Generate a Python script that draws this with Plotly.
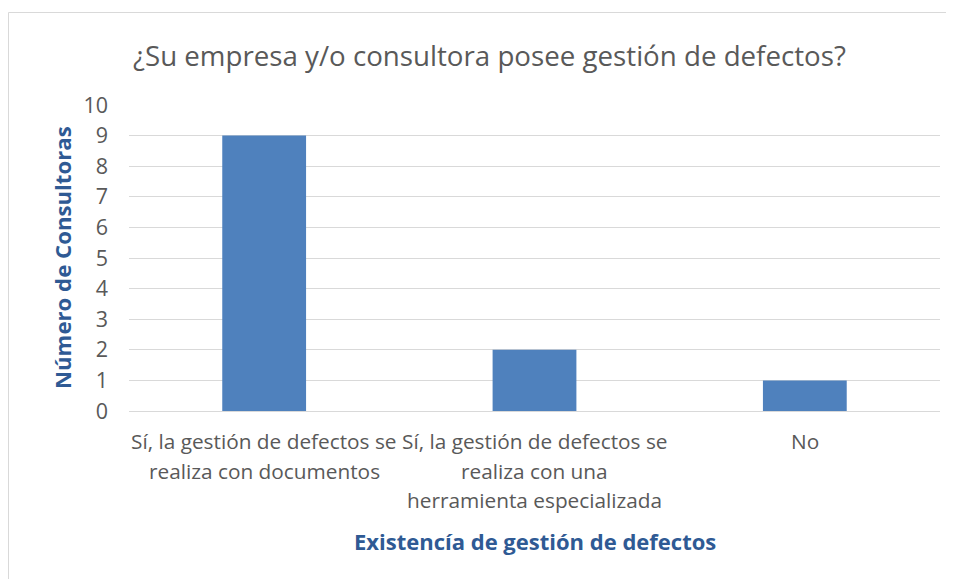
import plotly.graph_objects as go

categories = ["cat1", "cat2", "cat3"]
category_lines = [
    ["Sí, la gestión de defectos se", "realiza con documentos"],
    ["Sí, la gestión de defectos se", "realiza con una", "herramienta especializada"],
    ["No"],
]
values = [9, 2, 1]
y_ticks = list(range(0, 11))

title_text = "¿Su empresa y/o consultora posee gestión de defectos?"
x_title = "Existencía de gestión de defectos"
y_title = "Número de Consultoras"

FONT = "Open Sans"
GRAY = "#595959"
BLUE_T = "#2F5A94"

OFF = 8  # page body margin offset
W, H = 954, 579
L = 129 - OFF
T = 105 - OFF
R = W - (940 - OFF)
B = H - (411 - OFF)
pw, ph = W - L - R, H - T - B


def px_x(p):
    return (p - OFF - L) / pw


def px_y(p):
    return (H - B - (p - OFF)) / ph


fig = go.Figure(
    go.Bar(
        x=categories,
        y=values,
        marker=dict(color="#4F81BD", line=dict(width=0)),
        width=0.31,
    )
)

fig.update_layout(
    width=W,
    height=H,
    margin=dict(l=L, r=R, t=T, b=B, pad=0),
    paper_bgcolor="white",
    plot_bgcolor="white",
    showlegend=False,
    font=dict(family=FONT, color=GRAY, size=20),
)
fig.update_xaxes(
    showgrid=False,
    showline=False,
    ticks="",
    showticklabels=False,
)
fig.update_yaxes(
    range=[0, 10],
    tickvals=y_ticks,
    showgrid=True,
    gridcolor="#D9D9D9",
    gridwidth=1,
    zeroline=True,
    zerolinecolor="#D9D9D9",
    zerolinewidth=1,
    showline=False,
    ticks="",
    ticklabelstandoff=20,
    tickfont=dict(size=21.5, color=GRAY),
)

line_y = [441, 470.5, 500]
for cat, lines in zip(categories, category_lines):
    for i, ln in enumerate(lines):
        fig.add_annotation(
            text=ln, xref="x", yref="paper",
            x=cat, y=px_y(line_y[i]), xanchor="center", yanchor="middle",
            showarrow=False, font=dict(size=20.8, color=GRAY, family=FONT),
        )

fig.add_annotation(
    text=title_text, xref="paper", yref="paper",
    x=px_x(489), y=px_y(55), xanchor="center", yanchor="middle",
    showarrow=False, font=dict(size=27.7, color=GRAY, family=FONT),
)
fig.add_annotation(
    text=f"<b>{x_title}</b>", xref="paper", yref="paper",
    x=px_x(535), y=px_y(541), xanchor="center", yanchor="middle",
    showarrow=False, font=dict(size=22, color=BLUE_T, family=FONT),
)
fig.add_annotation(
    text=f"<b>{y_title}</b>", xref="paper", yref="paper",
    x=px_x(62), y=px_y(258), xanchor="center", yanchor="middle",
    textangle=-90,
    showarrow=False, font=dict(size=22.2, color=BLUE_T, family=FONT),
)
fig.add_shape(
    type="rect", xref="paper", yref="paper",
    x0=px_x(8.5), y0=px_y(620), x1=px_x(990), y1=px_y(12.5),
    line=dict(color="#D9D9D9", width=1), fillcolor="rgba(0,0,0,0)",
    layer="below",
)

fig.write_html("out.html")
